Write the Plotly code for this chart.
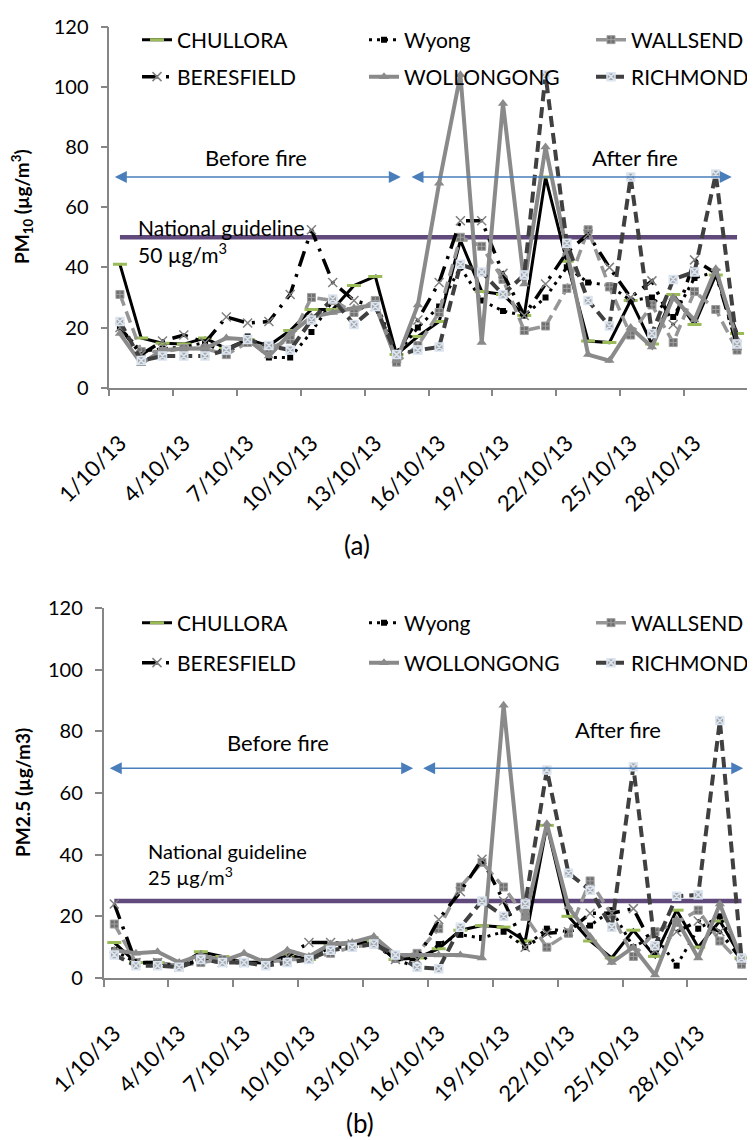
import plotly.graph_objects as go

# ---------------- data ----------------
days = list(range(1, 31))
tick_days = [1, 4, 7, 10, 13, 16, 19, 22, 25, 28]
tick_labels = ["1/10/13", "4/10/13", "7/10/13", "10/10/13", "13/10/13",
               "16/10/13", "19/10/13", "22/10/13", "25/10/13", "28/10/13"]
boundary_ticks = [0.5, 3.5, 6.5, 9.5, 12.5, 15.5, 18.5, 21.5, 24.5, 27.5, 30.5]
y_ticks = [0, 20, 40, 60, 80, 100, 120]

stations = ["CHULLORA", "Wyong", "WALLSEND", "BERESFIELD", "WOLLONGONG", "RICHMOND"]

# PM10 (panel a)
pm10_chullora = [41, 16.5, 14.8, 14.5, 16.5, 13, 16, 14, 19, 26, 26, 34, 37, 11, 17,
                 22, 49, 32, 31, 24, 70, 42, 15.5, 15, 29, 14.5, 31, 21, 37.5, 18]
pm10_wyong = [20, 12, 13, 13.5, 15, 11, 17, 10, 10, 18.5, 29, 25, 29, 11, 20,
              27, 40, 29, 25.5, 24, 30, 40, 35, 34, 29, 30, 23.5, 36.5, 38.5, 14]
pm10_wallsend = [31, 12, 12, 13, 13, 11, 15, 13, 16, 30, 29, 25, 29, 8.5, 14,
                 25, 50, 47, 36, 19, 20.5, 33, 52.5, 33.5, 17.5, 27.5, 15, 32, 26, 12.5]
pm10_beresfield = [20, 11, 15.5, 17.5, 15, 23.5, 21.5, 22, 31, 52.5, 35, 29, 27, 11.5, 22.5,
                   35, 55.5, 55.5, 38, 24, 34.5, 45, 51, 40, 30, 35.5, 21, 42.5, 38, 14]
pm10_wollongong = [18, 8, 12.5, 13, 13, 16.5, 16, 10.5, 18, 23.5, 25, 26.5, 27.5, 9, 27.5,
                   68, 104, 15, 94.5, 34.5, 80, 45, 11, 9, 20, 13.5, 30, 22.5, 39.5, 16]
pm10_richmond = [22, 9, 10.5, 10.5, 10.5, 12.5, 16, 14, 12.5, 22.5, 29.5, 21, 27, 11, 12.5,
                 13.5, 41, 38.5, 31, 37.5, 104, 48, 29, 20.5, 70, 18, 36, 38.5, 71, 14.5]
pm10_guideline = 50

# PM2.5 (panel b)
pm25_chullora = [11.5, 5, 5, 4, 8.5, 7, 5, 5, 7.5, 6, 11, 11, 12, 6, 6.5,
                 9.5, 15.5, 17, 16.5, 12, 49.5, 20, 12, 6.5, 15.5, 7, 22, 10, 18.5, 6.5]
pm25_wyong = [9, 5, 4.5, 4, 6, 5, 5, 5, 6, 6, 10, 10, 11, 6, 3.5,
              11, 14, 13, 15, 10, 16, 15, 17, 22, 10, 14, 4, 16, 20, 6]
pm25_wallsend = [17.5, 5, 5, 4, 5, 6, 5, 5, 6, 6, 8, 10, 11, 6.5, 8,
                 16, 29.5, 37.5, 29.5, 20, 10, 14.5, 31.5, 20.5, 7, 15, 18, 22, 12, 4.5]
pm25_beresfield = [24, 5, 5, 3.5, 6, 5, 5, 5, 7, 11.5, 11.5, 11, 12, 6, 6,
                   19, 28, 38.5, 25, 10, 14.5, 15, 21, 21, 22.5, 9, 15, 18.5, 15, 6]
pm25_wollongong = [9, 8, 8.5, 5, 7.5, 5.5, 8, 5, 9, 7, 11, 11.5, 13.5, 7.5, 7.5,
                   7.5, 7.5, 6.5, 88.5, 19.5, 50, 23, 13.5, 5, 10, 1, 19, 6.5, 24, 6]
pm25_richmond = [7.5, 4, 4, 3.5, 6, 5, 5, 4, 5, 6, 9, 10, 11, 7.5, 3.5,
                 3, 16.5, 25, 20, 24, 67.5, 34, 28.5, 16.5, 68.5, 10.5, 26.5, 27, 83.5, 6.5]
pm25_guideline = 25

pm10_series = [pm10_chullora, pm10_wyong, pm10_wallsend, pm10_beresfield, pm10_wollongong, pm10_richmond]
pm25_series = [pm25_chullora, pm25_wyong, pm25_wallsend, pm25_beresfield, pm25_wollongong, pm25_richmond]

# ---------------- styles ----------------
FONT = "Lato, Carlito, Calibri, sans-serif"
AXIS_COLOR = "#868686"
ARROW_COLOR = "#4A7EBB"
styles = {
    "CHULLORA": dict(line=dict(color="#000000", width=3),
                     marker=dict(symbol="line-ew", size=10, color="#9BBB59",
                                 line=dict(color="#9BBB59", width=3))),
    "Wyong": dict(line=dict(color="#000000", width=3, dash="3px,5px"),
                  marker=dict(symbol="square", size=6, color="#000000")),
    "WALLSEND": dict(line=dict(color="#969696", width=3.5, dash="12px,6px"),
                     marker=dict(symbol="square-cross", size=8, color="#6f6f6f",
                                 line=dict(color="#a0a0a0", width=1))),
    "BERESFIELD": dict(line=dict(color="#000000", width=3.5, dash="16px,8px,3px,8px"),
                       marker=dict(symbol="x-thin", size=9, color="#808080",
                                   line=dict(color="#808080", width=1.5))),
    "WOLLONGONG": dict(line=dict(color="#8a8a8a", width=4),
                       marker=dict(symbol="triangle-up", size=9, color="#8a8a8a")),
    "RICHMOND": dict(line=dict(color="#404040", width=4, dash="11px,6px"),
                     marker=dict(symbol="square-x", size=8, color="#a6a6a6",
                                 line=dict(color="#dbe5f1", width=1.5))),
}

# the page body has an 8px margin; the figure is sized so it ends at the window edge
OFF = 8
W, H = 755 - OFF, 1140 - OFF


def px_x(p):
    return (p - OFF) / W


def px_y(p):
    return 1 - (p - OFF) / H


# legend slot (column x of legend box, row y center) per station, per panel
legend_cols = [137, 364, 591]
legend_rows_a = [40, 77]
legend_rows_b = [623, 663]

fig = go.Figure()

# guideline lines
fig.add_trace(go.Scatter(x=days, y=[pm10_guideline] * len(days), mode="lines",
                         line=dict(color="#604A7B", width=4.5), showlegend=False,
                         xaxis="x", yaxis="y", hoverinfo="skip"))
fig.add_trace(go.Scatter(x=days, y=[pm25_guideline] * len(days), mode="lines",
                         line=dict(color="#604A7B", width=4.5), showlegend=False,
                         xaxis="x2", yaxis="y2", hoverinfo="skip"))

legend_layout = {}
legend_common = dict(orientation="h", font=dict(family=FONT, size=21, color="#000"),
                     bgcolor="rgba(0,0,0,0)", borderwidth=0,
                     xanchor="left", yanchor="middle", itemwidth=30)

k = 0
for panel, series, rows, xa, ya in [("a", pm10_series, legend_rows_a, "x", "y"),
                                    ("b", pm25_series, legend_rows_b, "x2", "y2")]:
    for i, (name, vals) in enumerate(zip(stations, series)):
        k += 1
        lname = "legend" if k == 1 else f"legend{k}"
        legend_layout[lname] = dict(x=px_x(legend_cols[i % 3]), y=px_y(rows[i // 3]),
                                    **legend_common)
        fig.add_trace(go.Scatter(x=days, y=vals, name=name, mode="lines+markers",
                                 xaxis=xa, yaxis=ya, legend=lname, **styles[name]))

xaxis_common = dict(range=[0.5, 30.5], tickmode="array", tickvals=tick_days,
                    ticktext=tick_labels, tickangle=-45, ticks="",
                    showline=True, linecolor=AXIS_COLOR, linewidth=1.5,
                    showgrid=False, zeroline=False, automargin=False,
                    tickfont=dict(family=FONT, size=22, color="#000"),
                    ticklabelstandoff=32,
                    minor=dict(tickmode="array", tickvals=boundary_ticks, ticks="outside",
                               ticklen=7, tickcolor=AXIS_COLOR, tickwidth=1.5, showgrid=False))
yaxis_common = dict(range=[0, 120], tickmode="array", tickvals=y_ticks,
                    ticks="outside", ticklen=7, tickcolor=AXIS_COLOR, tickwidth=1.5,
                    showline=True, linecolor=AXIS_COLOR, linewidth=1.5,
                    showgrid=False, zeroline=False, automargin=False,
                    tickfont=dict(family=FONT, size=20, color="#000"),
                    ticklabelstandoff=8)

fig.update_layout(
    template="none",
    width=W, height=H,
    margin=dict(l=0, r=0, t=0, b=0, autoexpand=False),
    paper_bgcolor="white", plot_bgcolor="white",
    font=dict(family=FONT, size=18, color="#000"),
    xaxis=dict(domain=[px_x(109.3), px_x(747.7)], anchor="y", **xaxis_common),
    yaxis=dict(domain=[px_y(387.7), px_y(26.7)], anchor="x", **yaxis_common),
    xaxis2=dict(domain=[px_x(103.5), px_x(752.3)], anchor="y2", **xaxis_common),
    yaxis2=dict(domain=[px_y(978), px_y(608)], anchor="x2", **yaxis_common),
    showlegend=True,
    **legend_layout,
)

annotations = []
# double arrows (data coordinates)
arrows = [
    ("x", "y", 0.69, 14.2, 70),
    ("x", "y", 14.63, 29.75, 70),
    ("x2", "y2", 0.72, 14.82, 68),
    ("x2", "y2", 15.21, 30.08, 68),
]
for xr, yr, x0, x1, yv in arrows:
    annotations.append(dict(x=x1, y=yv, ax=x0, ay=yv, xref=xr, yref=yr, axref=xr, ayref=yr,
                            text="", showarrow=True, arrowside="end+start",
                            arrowhead=2, startarrowhead=2, arrowsize=1.6, startarrowsize=1.6,
                            arrowwidth=1.5, arrowcolor=ARROW_COLOR))

texts = [
    ("Before fire", 256, 157, 22),
    ("After fire", 635, 157, 22),
    ("Before fire", 278, 742, 22),
    ("After fire", 618, 729, 22),
]
for t, xp, yp, fs in texts:
    annotations.append(dict(text=t, x=px_x(xp), y=px_y(yp), xref="paper", yref="paper",
                            xanchor="center", yanchor="middle", showarrow=False,
                            font=dict(family=FONT, size=fs, color="#000")))

annotations.append(dict(text="National guideline<br>50 µg/m<sup>3</sup>", x=px_x(136), y=px_y(241),
                        xref="paper", yref="paper", xanchor="left", yanchor="middle",
                        align="left", showarrow=False,
                        font=dict(family=FONT, size=21, color="#000")))
annotations.append(dict(text="National guideline<br>25 µg/m<sup>3</sup>", x=px_x(146), y=px_y(864),
                        xref="paper", yref="paper", xanchor="left", yanchor="middle",
                        align="left", showarrow=False,
                        font=dict(family=FONT, size=20, color="#000")))

# axis titles
annotations.append(dict(text="<b>PM<sub>10</sub> (µg/m<sup>3</sup>)</b>", x=px_x(22), y=px_y(207),
                        xref="paper", yref="paper", textangle=-90, showarrow=False,
                        xanchor="center", yanchor="middle",
                        font=dict(family=FONT, size=19, color="#000")))
annotations.append(dict(text="<b>PM2.5 (µg/m3)</b>", x=px_x(22), y=px_y(793),
                        xref="paper", yref="paper", textangle=-90, showarrow=False,
                        xanchor="center", yanchor="middle",
                        font=dict(family=FONT, size=19, color="#000")))

# panel labels
annotations.append(dict(text="(a)", x=px_x(357), y=px_y(545), xref="paper", yref="paper",
                        showarrow=False, xanchor="center", yanchor="middle",
                        font=dict(family=FONT, size=26, color="#000")))
annotations.append(dict(text="(b)", x=px_x(360), y=px_y(1123), xref="paper", yref="paper",
                        showarrow=False, xanchor="center", yanchor="middle",
                        font=dict(family=FONT, size=26, color="#000")))

fig.update_layout(annotations=annotations)

fig.write_html("out.html")
